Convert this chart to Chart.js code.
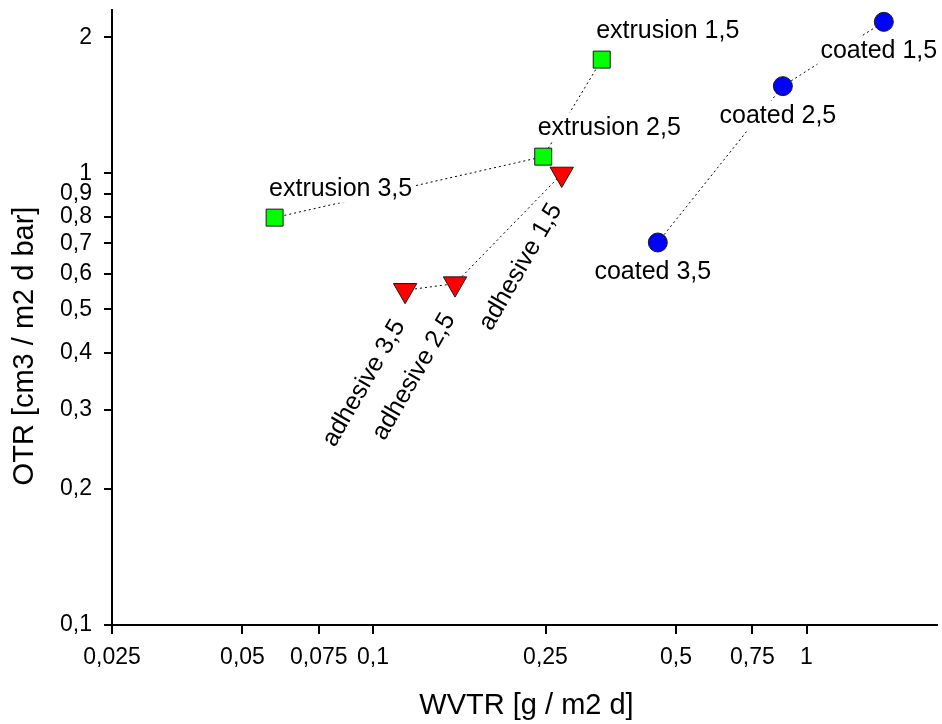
<!DOCTYPE html>
<html>
<head>
<meta charset="utf-8">
<script src="https://cdn.jsdelivr.net/npm/chart.js@4.4.0/dist/chart.umd.min.js"></script>
<style>
  html, body { margin: 0; padding: 0; background: #fff; }
</style>
</head>
<body>
<canvas id="barrierChart" width="942" height="724"></canvas>
<script>
// coating weight of each point, in plotting order
const pointLabels = ['3,5', '2,5', '1,5'];

// WVTR [g / m2 d] and OTR [cm3 / m2 d bar] per process
const extrusionWvtr = [0.0593, 0.247, 0.337];
const extrusionOtr = [0.798, 1.089, 1.786];

const adhesiveWvtr = [0.1186, 0.1546, 0.2725];
const adhesiveOtr = [0.551, 0.570, 0.997];

const coatedWvtr = [0.454, 0.882, 1.508];
const coatedOtr = [0.703, 1.56, 2.165];

const xTicks = [0.025, 0.05, 0.075, 0.1, 0.25, 0.5, 0.75, 1];
const yTicks = [0.1, 0.2, 0.3, 0.4, 0.5, 0.6, 0.7, 0.8, 0.9, 1, 2];

const FONT = '"Liberation Sans", Arial, sans-serif';

// where each series puts its point labels (pixel offsets from the marker)
const labelPlacement = {
    extrusion: { dx: 66, dy: -22, angle: 0, backdrop: true },
    adhesive: { dx: -41, dy: 93, angle: -60, backdrop: false },
    coated: { dx: -5, dy: 36.5, angle: 0, backdrop: true }
};

function toPoints(xs, ys) {
    return xs.map((x, i) => ({ x: x, y: ys[i] }));
}

function decimalComma(v) {
    return String(v).replace('.', ',');
}

function series(name, xs, ys, color, style, radius, rotation) {
    return {
        label: name,
        data: toPoints(xs, ys),
        showLine: true,
        borderColor: '#000',
        borderWidth: 1,
        borderDash: [2, 3],
        pointStyle: style,
        pointRadius: radius,
        pointRotation: rotation,
        pointBackgroundColor: color,
        pointBorderColor: '#1a1a1a',
        pointBorderWidth: 1
    };
}

// point labels with a white backdrop so they sit on top of the dotted lines
const pointLabelPlugin = {
    id: 'pointLabelPlugin',
    afterDatasetsDraw(chart) {
        const ctx = chart.ctx;
        ctx.save();
        ctx.font = '25px ' + FONT;
        ctx.fillStyle = '#000';
        chart.data.datasets.forEach((ds, i) => {
            const place = labelPlacement[ds.label];
            chart.getDatasetMeta(i).data.forEach((pt, j) => {
                const text = ds.label + ' ' + pointLabels[j];
                const x = pt.x + place.dx;
                const y = pt.y + place.dy;
                const w = ctx.measureText(text).width;
                if (place.angle === 0) {
                    if (place.backdrop) {
                        ctx.fillStyle = '#fff';
                        ctx.fillRect(x - w / 2 - 3, y - 22, w + 6, 29);
                        ctx.fillStyle = '#000';
                    }
                    ctx.textAlign = 'center';
                    ctx.textBaseline = 'alphabetic';
                    ctx.fillText(text, x, y);
                } else {
                    ctx.save();
                    ctx.translate(x, y);
                    ctx.rotate(place.angle * Math.PI / 180);
                    ctx.textAlign = 'center';
                    ctx.textBaseline = 'middle';
                    ctx.fillText(text, 0, 0);
                    ctx.restore();
                }
            });
        });
        ctx.restore();
    }
};

// axis titles
const axisTitlePlugin = {
    id: 'axisTitlePlugin',
    afterDraw(chart) {
        const ctx = chart.ctx;
        const area = chart.chartArea;
        ctx.save();
        ctx.fillStyle = '#000';
        ctx.font = '29px ' + FONT;
        ctx.textAlign = 'center';
        ctx.textBaseline = 'alphabetic';
        ctx.fillText('WVTR [g / m2 d]', (area.left + area.right) / 2 + 2, 714);

        ctx.translate(33, 346);
        ctx.rotate(-Math.PI / 2);
        ctx.fillText('OTR [cm3 / m2 d bar]', 0, 0);
        ctx.restore();
    }
};

const ctx = document.getElementById('barrierChart').getContext('2d');
const barrierChart = new Chart(ctx, {
    type: 'scatter',
    data: {
        datasets: [
            series('extrusion', extrusionWvtr, extrusionOtr, '#00ff00', 'rect', 12, 0),
            series('adhesive', adhesiveWvtr, adhesiveOtr, '#ff0000', 'triangle', 13.5, 180),
            series('coated', coatedWvtr, coatedOtr, '#0000ff', 'circle', 9.5, 0)
        ]
    },
    options: {
        responsive: false,
        animation: false,
        devicePixelRatio: 1,
        layout: {
            autoPadding: false,
            padding: { top: 10, right: 5, left: 0, bottom: 0 }
        },
        plugins: {
            legend: { display: false },
            tooltip: { enabled: false }
        },
        scales: {
            x: {
                type: 'logarithmic',
                min: 0.025,
                max: 2,
                afterBuildTicks: scale => {
                    scale.ticks = xTicks.map(v => ({ value: v }));
                },
                afterFit: scale => {
                    scale.height = 99;
                    scale.paddingLeft = 0;
                    scale.paddingRight = 0;
                },
                ticks: {
                    autoSkip: false,
                    maxRotation: 0,
                    padding: 10,
                    color: '#000',
                    font: { family: FONT, size: 23 },
                    callback: v => decimalComma(v)
                },
                grid: {
                    drawOnChartArea: false,
                    drawTicks: true,
                    tickLength: 9,
                    color: '#000',
                    lineWidth: 2
                },
                border: { color: '#000', width: 2 }
            },
            y: {
                type: 'logarithmic',
                min: 0.1,
                max: 2.3,
                afterBuildTicks: scale => {
                    scale.ticks = yTicks.map(v => ({ value: v }));
                },
                afterFit: scale => {
                    scale.width = 112;
                    scale.paddingTop = 0;
                    scale.paddingBottom = 0;
                },
                ticks: {
                    autoSkip: false,
                    padding: 12,
                    color: '#000',
                    font: { family: FONT, size: 23 },
                    callback: v => decimalComma(v)
                },
                grid: {
                    drawOnChartArea: false,
                    drawTicks: true,
                    tickLength: 8,
                    color: '#000',
                    lineWidth: 2
                },
                border: { color: '#000', width: 2 }
            }
        }
    },
    plugins: [pointLabelPlugin, axisTitlePlugin]
});
</script>
</body>
</html>
